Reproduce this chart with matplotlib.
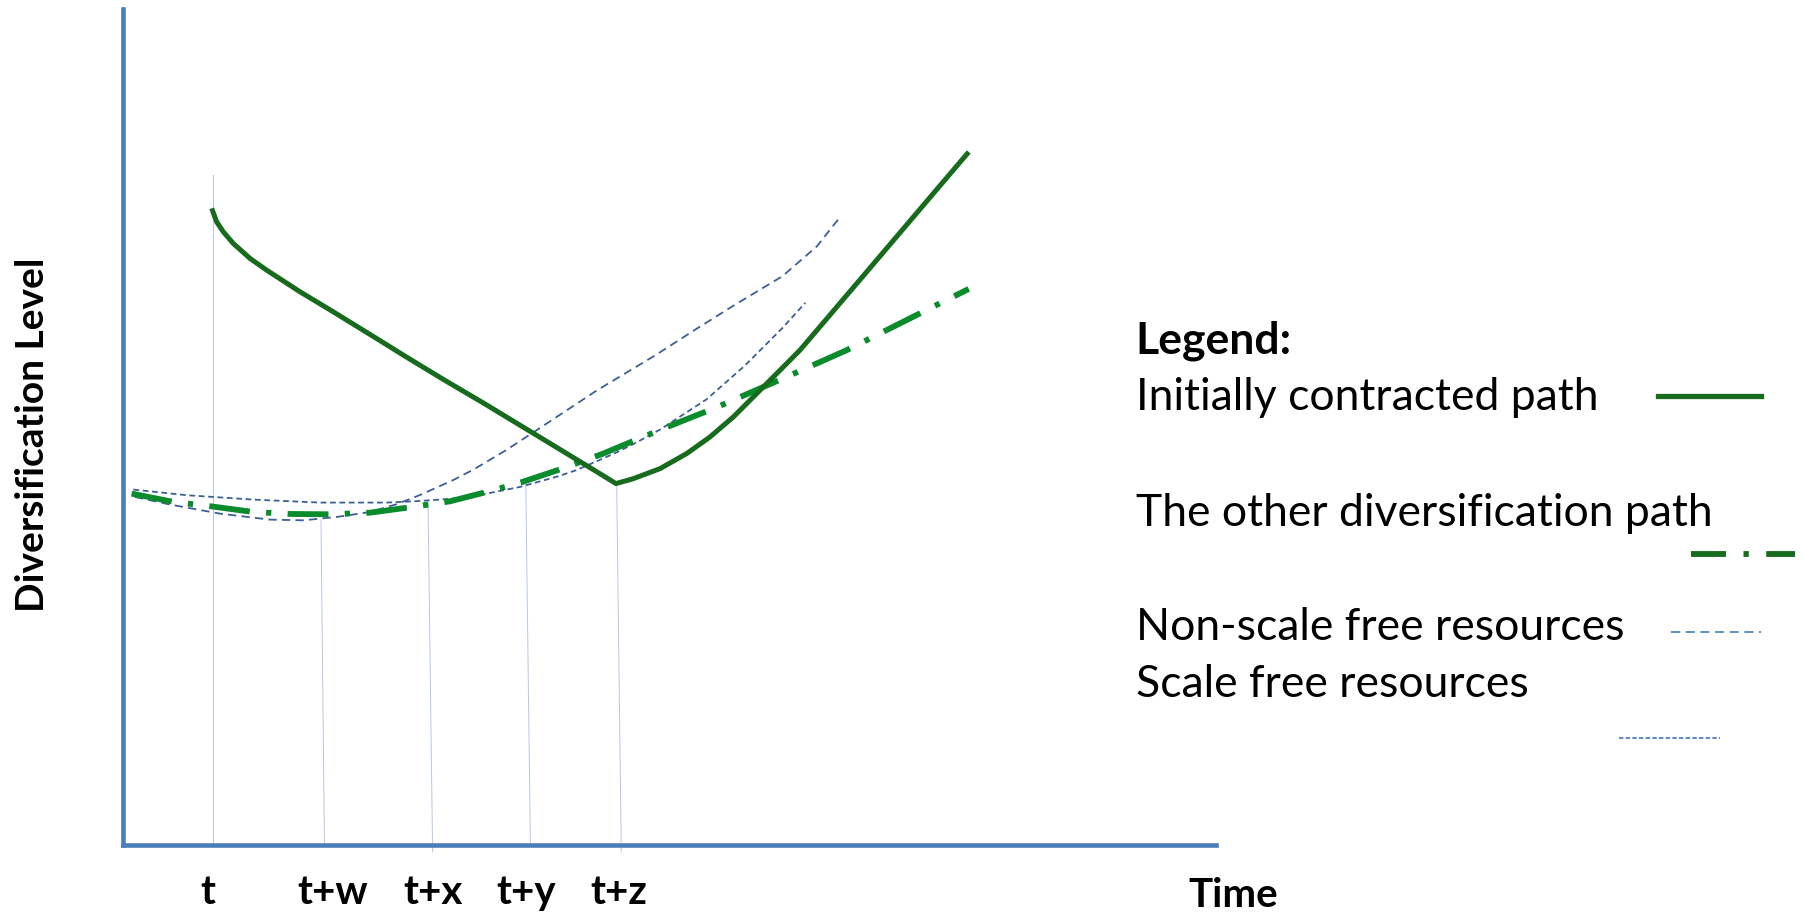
import matplotlib.pyplot as plt

plt.rcParams['font.family'] = ['Lato', 'DejaVu Sans']

# schematic curves (x = time, y = diversification level)
contracted_x = [77, 81.3, 87.1, 95.8, 110.3, 124.8, 153.8, 182.7, 220.4, 246, 279, 313,
                346, 379, 412, 428.4, 443.5, 466.7, 489.9, 510.1, 530.4, 550.7, 571,
                588.3, 623, 657, 690, 735]
contracted_y = [553, 541.3, 532.6, 522.5, 509.5, 499.3, 480.5, 463.1, 439.9, 424, 404, 384,
                364, 344, 324, 313.9, 318.2, 326.9, 340, 354.4, 371.8, 392.1, 412.4,
                429.8, 470.5, 510.4, 549.2, 602]

other_x = [7.4, 43.7, 76.1, 112.6, 145.6, 181.9, 215.2, 251.4, 284.1, 319.5, 346, 379,
           417.4, 446, 479, 514.5, 573, 628.9, 703, 735]
other_y = [305.2, 298, 294.2, 289.3, 287.5, 287.2, 288.7, 293.6, 298.5, 307.5, 315, 326,
           340, 352, 365.5, 379.6, 405, 429.8, 467, 483]

# dips first, then rises fastest (upper dashed curve)
non_scale_x = [10.3, 40.8, 84.2, 127.7, 156.6, 185.6, 214.6, 237.8, 258.1, 287, 304.4,
               333, 362, 412, 462, 501, 533, 573, 603, 622]
non_scale_y = [302.3, 295.7, 287.8, 282.6, 282, 284.9, 289.2, 296, 304, 317, 326,
               343, 362, 395, 425, 450, 470, 494, 520, 544]

# flat at first, then follows the other diversification path
scale_free_x = [8.9, 55.3, 113.2, 171.1, 229.1, 258.1, 287, 316, 345, 379, 393.7, 426.9,
                446, 467, 507, 540, 573, 593]
scale_free_y = [308.7, 303.8, 300, 297.4, 297.4, 298.8, 300.9, 305.2, 311, 320.5, 325.5, 340,
                349.5, 361, 387, 416, 449, 471]

# thin drop lines from the curves to the time axis: (x top, y top, x bottom, y bottom)
drop_lines = [(78, 582, 78, 0), (172, 282, 175, 0), (265, 300, 269, -6),
              (350, 315, 354, 0), (429, 314, 433, -6)]

tick_x = [74, 182, 269, 350, 431]
tick_labels = ['t', 't+w', 't+x', 't+y', 't+z']

legend_labels = ['Initially contracted path', 'The other diversification path',
                 'Non-scale free resources', 'Scale free resources']

dark_green = '#176b1d'
green = '#0b8c2c'
curve_blue = '#3d5f95'
axis_blue = '#4a7ebb'

fig = plt.figure(figsize=(18.04, 9.14), dpi=100)
ax = fig.add_axes([107 / 1568, 60 / 794, 950 / 1568, 726 / 794])
ax.set_xlim(0, 950)
ax.set_ylim(0, 726)

for side in ['top', 'right']:
    ax.spines[side].set_visible(False)
for side in ['left', 'bottom']:
    ax.spines[side].set_color(axis_blue)
    ax.spines[side].set_linewidth(3.3)
ax.set_xticks([])
ax.set_yticks([])

for x0, y0, x1, y1 in drop_lines:
    ax.plot([x0, x1], [y0, y1], color='#b4c7e7', lw=0.7, zorder=1, clip_on=False)

ax.plot(non_scale_x, non_scale_y, color=curve_blue, lw=1.3,
        linestyle=(0, (4.6, 2.9)), zorder=2)
ax.plot(scale_free_x, scale_free_y, color=curve_blue, lw=1.3,
        linestyle=(0, (3.2, 2.0)), zorder=2)
ax.plot(other_x, other_y, color=green, lw=4.2,
        linestyle=(0, (7.0, 2.8, 0.9, 2.8)), zorder=3)
ax.plot(contracted_x, contracted_y, color=dark_green, lw=3.6,
        solid_capstyle='butt', solid_joinstyle='round', zorder=4)

# axis texts
bold = {'fontweight': 'bold', 'fontsize': 29, 'ha': 'center', 'va': 'center'}
for x, lab in zip(tick_x, tick_labels):
    ax.text(x, -41, lab, **bold)
ax.text(965, -44, 'Time', **bold)
ax.text(-79, 356, 'Diversification Level', rotation=90,
        **{**bold, 'fontsize': 28})

# hand-made legend to the right of the plot
ax.text(880, 438, 'Legend:', fontsize=32, fontweight='bold', va='center')
for lab, y in zip(legend_labels, [389, 288, 189, 139]):
    ax.text(880, y, lab, fontsize=32, va='center')

ax.plot([1334, 1424], [390, 390], color=dark_green, lw=3.8, clip_on=False)
ax.plot([1363, 1453], [253, 253], color=dark_green, lw=4.2,
        linestyle=(0, (6.0, 3.0, 0.9, 3.0)), clip_on=False)
ax.plot([1345, 1424], [185, 185], color=axis_blue, lw=1.2,
        linestyle=(0, (5.5, 3.3)), clip_on=False)
ax.plot([1300, 1388], [93, 93], color='#4472c4', lw=1.2,
        linestyle=(0, (2.6, 1.4)), clip_on=False)

fig.savefig('out.png', dpi=100)
